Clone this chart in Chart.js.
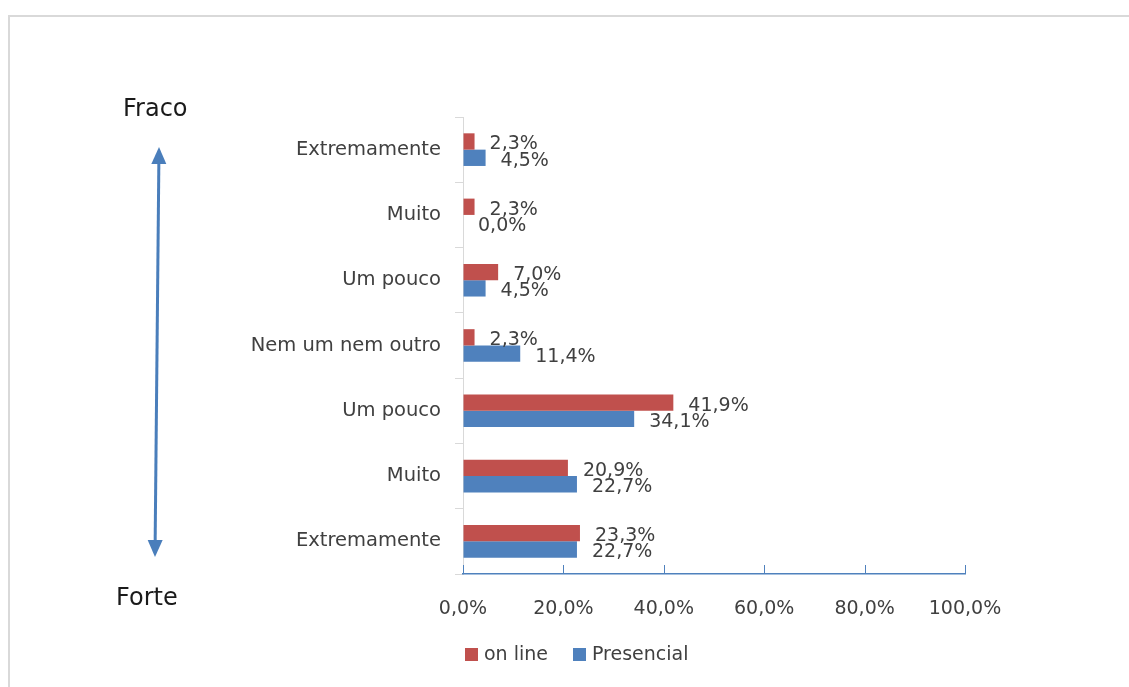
<!DOCTYPE html>
<html lang="pt">
<head>
<meta charset="UTF-8">
<title>Intensidade - on line x presencial</title>
<script src="https://cdn.jsdelivr.net/npm/chart.js"></script>
<style>
  html, body { margin: 0; padding: 0; background: #fff; }
  #wrap { position: relative; width: 1129px; height: 687px; }
</style>
</head>
<body>
<div id="wrap"><canvas id="chart" width="1129" height="687"></canvas></div>
<script>
// categorias de cima para baixo (fraco -> forte)
const categories = ['Extremamente', 'Muito', 'Um pouco', 'Nem um nem outro', 'Um pouco', 'Muito', 'Extremamente'];
const onlineValues = [2.3, 2.3, 7.0, 2.3, 41.9, 20.9, 23.3];
const presencialValues = [4.5, 0.0, 4.5, 11.4, 34.1, 22.7, 22.7];
const seriesNames = ['on line', 'Presencial'];
const xTicks = [0, 20, 40, 60, 80, 100];
const scaleEnds = ['Fraco', 'Forte'];

const RED = '#c0504d';
const BLUE = '#4f81bd';
const TEXT = '#404040';
const FAMILY = '"DejaVu Sans", sans-serif';

const pct = v => v.toFixed(1).replace('.', ',') + '%';

// rótulos de valor, marcas internas do eixo x, seta e legenda
const extras = {
  id: 'extras',
  beforeDraw(chart) {
    const ctx = chart.ctx;
    ctx.save();
    ctx.fillStyle = '#d9d9d9';
    ctx.fillRect(8, 15, chart.width - 8, 2);
    ctx.fillRect(8, 15, 2, chart.height - 15);
    ctx.restore();
  },
  afterDatasetsDraw(chart) {
    const ctx = chart.ctx;
    ctx.save();
    ctx.font = '19px ' + FAMILY;
    ctx.fillStyle = TEXT;
    ctx.textAlign = 'left';
    ctx.textBaseline = 'middle';
    chart.data.datasets.forEach((ds, i) => {
      chart.getDatasetMeta(i).data.forEach((bar, j) => {
        ctx.fillText(pct(ds.data[j]), bar.x + 15, bar.y + 3);
      });
    });

    // marcas do eixo x voltadas para dentro
    const xs = chart.scales.x;
    ctx.strokeStyle = BLUE;
    ctx.lineWidth = 1;
    xs.ticks.forEach(t => {
      const px = Math.round(xs.getPixelForValue(t.value)) + 0.5;
      ctx.beginPath();
      ctx.moveTo(px, xs.top);
      ctx.lineTo(px, xs.top - 9);
      ctx.stroke();
    });
    ctx.restore();
  },
  afterDraw(chart) {
    const ctx = chart.ctx;
    ctx.save();

    // Fraco / Forte
    ctx.fillStyle = '#1a1a1a';
    ctx.font = '24px ' + FAMILY;
    ctx.textAlign = 'left';
    ctx.textBaseline = 'alphabetic';
    ctx.fillText(scaleEnds[0], 123, 116);
    ctx.fillText(scaleEnds[1], 116, 605);

    // seta dupla
    const x1 = 159, y1 = 147, x2 = 155, y2 = 557;
    const ang = Math.atan2(y2 - y1, x2 - x1);
    const head = 17, half = 7.5;
    const ux = Math.cos(ang), uy = Math.sin(ang);
    ctx.strokeStyle = '#4a7ebb';
    ctx.fillStyle = '#4a7ebb';
    ctx.lineWidth = 3;
    ctx.beginPath();
    ctx.moveTo(x1 + ux * head, y1 + uy * head);
    ctx.lineTo(x2 - ux * head, y2 - uy * head);
    ctx.stroke();
    const arrowHead = (tx, ty, dx, dy) => {
      const bx = tx - dx * head, by = ty - dy * head;
      ctx.beginPath();
      ctx.moveTo(tx, ty);
      ctx.lineTo(bx - dy * half, by + dx * half);
      ctx.lineTo(bx + dy * half, by - dx * half);
      ctx.closePath();
      ctx.fill();
    };
    arrowHead(x1, y1, -ux, -uy);
    arrowHead(x2, y2, ux, uy);

    // legenda
    ctx.font = '19px ' + FAMILY;
    ctx.textBaseline = 'middle';
    const legendX = [465, 573];
    chart.data.datasets.forEach((ds, i) => {
      ctx.fillStyle = ds.backgroundColor;
      ctx.fillRect(legendX[i], 648, 13, 13);
      ctx.fillStyle = TEXT;
      ctx.fillText(ds.label, legendX[i] + 19, 655);
    });
    ctx.restore();
  }
};

new Chart(document.getElementById('chart'), {
  type: 'bar',
  data: {
    labels: categories,
    datasets: [{
      label: seriesNames[0],
      data: onlineValues,
      backgroundColor: RED,
      categoryPercentage: 0.5,
      barPercentage: 1.0
    }, {
      label: seriesNames[1],
      data: presencialValues,
      backgroundColor: BLUE,
      categoryPercentage: 0.5,
      barPercentage: 1.0
    }]
  },
  options: {
    responsive: false,
    animation: false,
    indexAxis: 'y',
    layout: { padding: { top: 117, right: 164, bottom: 53, left: 0 } },
    plugins: {
      legend: { display: false },
      tooltip: { enabled: false }
    },
    scales: {
      y: {
        grid: { offset: true, drawOnChartArea: false, drawTicks: true, tickLength: 8, color: '#d9d9d9' },
        border: { color: '#d9d9d9' },
        ticks: { font: { family: FAMILY, size: 19.5 }, color: TEXT, padding: 14 },
        afterFit: s => { s.width = 463; }
      },
      x: {
        min: 0,
        max: 100,
        afterBuildTicks: s => { s.ticks = xTicks.map(v => ({ value: v })); },
        grid: { drawOnChartArea: false, drawTicks: false },
        border: { color: BLUE, width: 1.5 },
        ticks: {
          font: { family: FAMILY, size: 19 },
          color: TEXT,
          padding: 24,
          maxRotation: 0,
          autoSkip: false,
          callback: v => pct(v)
        },
        afterFit: s => { s.height = 60; }
      }
    }
  },
  plugins: [extras]
});
</script>
</body>
</html>
